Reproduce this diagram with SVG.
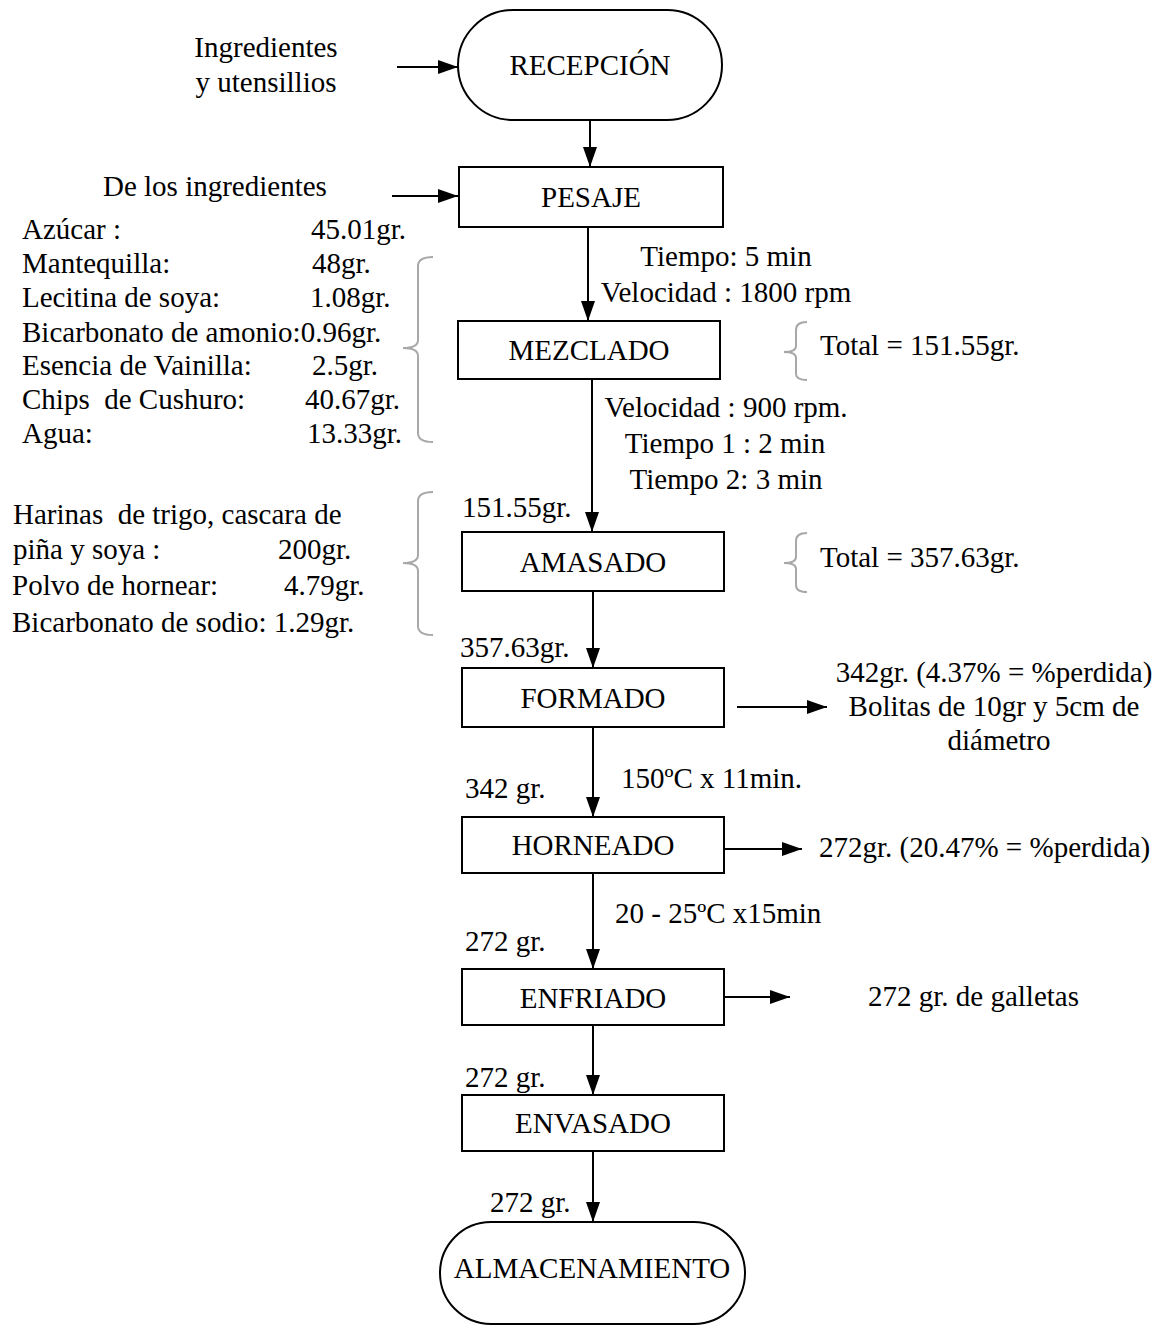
<svg xmlns="http://www.w3.org/2000/svg" width="1174" height="1327" viewBox="0 0 1174 1327">
<style>
text{font-family:"Liberation Serif","Times New Roman",serif;font-size:29px;fill:#000}
.c{text-anchor:middle}
.box{fill:#fff;stroke:#000;stroke-width:2}
.ln{stroke:#000;stroke-width:2;fill:none}
.br{stroke:#a8a8a8;stroke-width:2;fill:none}
</style>
<defs>
<marker id="ah" markerWidth="22" markerHeight="16" refX="20" refY="7" orient="auto" markerUnits="userSpaceOnUse"><path d="M0,0 L20,7 L0,14 z" fill="#000"/></marker>
</defs>
<rect width="1174" height="1327" fill="#fff"/>
<g id="connectors">
<line class="ln" x1="397" y1="67" x2="458" y2="67" marker-end="url(#ah)"/>
<line class="ln" x1="392" y1="196" x2="458" y2="196" marker-end="url(#ah)"/>
<line class="ln" x1="590" y1="120" x2="590" y2="167" marker-end="url(#ah)"/>
<line class="ln" x1="588" y1="227" x2="588" y2="321" marker-end="url(#ah)"/>
<line class="ln" x1="592" y1="379" x2="592" y2="532" marker-end="url(#ah)"/>
<line class="ln" x1="593" y1="591" x2="593" y2="668" marker-end="url(#ah)"/>
<line class="ln" x1="593" y1="727" x2="593" y2="817" marker-end="url(#ah)"/>
<line class="ln" x1="593" y1="873" x2="593" y2="969" marker-end="url(#ah)"/>
<line class="ln" x1="593" y1="1025" x2="593" y2="1095" marker-end="url(#ah)"/>
<line class="ln" x1="593" y1="1151" x2="593" y2="1222" marker-end="url(#ah)"/>
<line class="ln" x1="737" y1="707" x2="827" y2="707" marker-end="url(#ah)"/>
<line class="ln" x1="724" y1="849" x2="802" y2="849" marker-end="url(#ah)"/>
<line class="ln" x1="724" y1="997" x2="790" y2="997" marker-end="url(#ah)"/>
</g>
<g id="braces">
<path class="br" d="M433,257 Q418,257 418,266 L418,340 Q418,348 403,348 Q418,348 418,356 L418,433 Q418,442 433,442"/>
<path class="br" d="M433,492 Q418,492 418,501 L418,555 Q418,563 403,563 Q418,563 418,571 L418,626 Q418,635 433,635"/>
<path class="br" d="M807,322 Q796,322 796,330 L796,346 Q796,352 784,352 Q796,352 796,358 L796,374 Q796,380 807,380"/>
<path class="br" d="M807,533 Q796,533 796,541 L796,557 Q796,563 784,563 Q796,563 796,569 L796,585 Q796,592 807,592"/>
</g>
<g id="recepcion">
<rect class="box" x="458" y="10" width="264" height="110" rx="55"/>
<text class="c" x="590" y="75">RECEPCIÓN</text>
</g>
<g id="pesaje">
<rect class="box" x="459" y="167" width="264" height="60"/>
<text class="c" x="591" y="207">PESAJE</text>
</g>
<g id="mezclado">
<rect class="box" x="458" y="321" width="262" height="58"/>
<text class="c" x="589" y="360">MEZCLADO</text>
</g>
<g id="amasado">
<rect class="box" x="462" y="532" width="262" height="59"/>
<text class="c" x="593" y="572">AMASADO</text>
</g>
<g id="formado">
<rect class="box" x="462" y="668" width="262" height="59"/>
<text class="c" x="593" y="708">FORMADO</text>
</g>
<g id="horneado">
<rect class="box" x="462" y="817" width="262" height="56"/>
<text class="c" x="593" y="855">HORNEADO</text>
</g>
<g id="enfriado">
<rect class="box" x="462" y="969" width="262" height="56"/>
<text class="c" x="593" y="1008">ENFRIADO</text>
</g>
<g id="envasado">
<rect class="box" x="462" y="1095" width="262" height="56"/>
<text class="c" x="593" y="1133">ENVASADO</text>
</g>
<g id="almacenamiento">
<rect class="box" x="440" y="1222" width="305" height="102" rx="51"/>
<text class="c" x="592" y="1278">ALMACENAMIENTO</text>
</g>
<g id="labels">
<text class="c" x="266" y="57">Ingredientes</text>
<text class="c" x="266" y="92">y utensillios</text>
<text x="103" y="196">De los ingredientes</text>
<text x="22" y="239">Azúcar :</text><text x="311" y="239">45.01gr.</text>
<text x="22" y="273">Mantequilla:</text><text x="312" y="273">48gr.</text>
<text x="22" y="307">Lecitina de soya:</text><text x="310" y="307">1.08gr.</text>
<text x="22" y="342">Bicarbonato de amonio:0.96gr.</text>
<text x="22" y="375">Esencia de Vainilla:</text><text x="312" y="375">2.5gr.</text>
<text x="22" y="409" xml:space="preserve">Chips  de Cushuro:</text><text x="305" y="409">40.67gr.</text>
<text x="22" y="443">Agua:</text><text x="307" y="443">13.33gr.</text>
<text x="13" y="524" xml:space="preserve">Harinas  de trigo, cascara de</text>
<text x="13" y="559">piña y soya :</text><text x="278" y="559">200gr.</text>
<text x="12" y="595">Polvo de hornear:</text><text x="284" y="595">4.79gr.</text>
<text x="12" y="632">Bicarbonato de sodio: 1.29gr.</text>
<text class="c" x="726" y="266">Tiempo: 5 min</text>
<text class="c" x="726" y="302">Velocidad : 1800 rpm</text>
<text x="820" y="355">Total = 151.55gr.</text>
<text class="c" x="726" y="417">Velocidad : 900 rpm.</text>
<text class="c" x="725" y="453">Tiempo 1 : 2 min</text>
<text class="c" x="726" y="489">Tiempo 2: 3 min</text>
<text x="462" y="517">151.55gr.</text>
<text x="820" y="567">Total = 357.63gr.</text>
<text x="460" y="657">357.63gr.</text>
<text class="c" x="994" y="682">342gr. (4.37% = %perdida)</text>
<text class="c" x="994" y="716">Bolitas de 10gr y 5cm de</text>
<text class="c" x="999" y="750">diámetro</text>
<text x="621" y="788">150ºC x 11min.</text>
<text x="465" y="798">342 gr.</text>
<text x="819" y="857">272gr. (20.47% = %perdida)</text>
<text x="615" y="923">20 - 25ºC x15min</text>
<text x="465" y="951">272 gr.</text>
<text x="868" y="1006">272 gr. de galletas</text>
<text x="465" y="1087">272 gr.</text>
<text x="490" y="1212">272 gr.</text>
</g>
</svg>
